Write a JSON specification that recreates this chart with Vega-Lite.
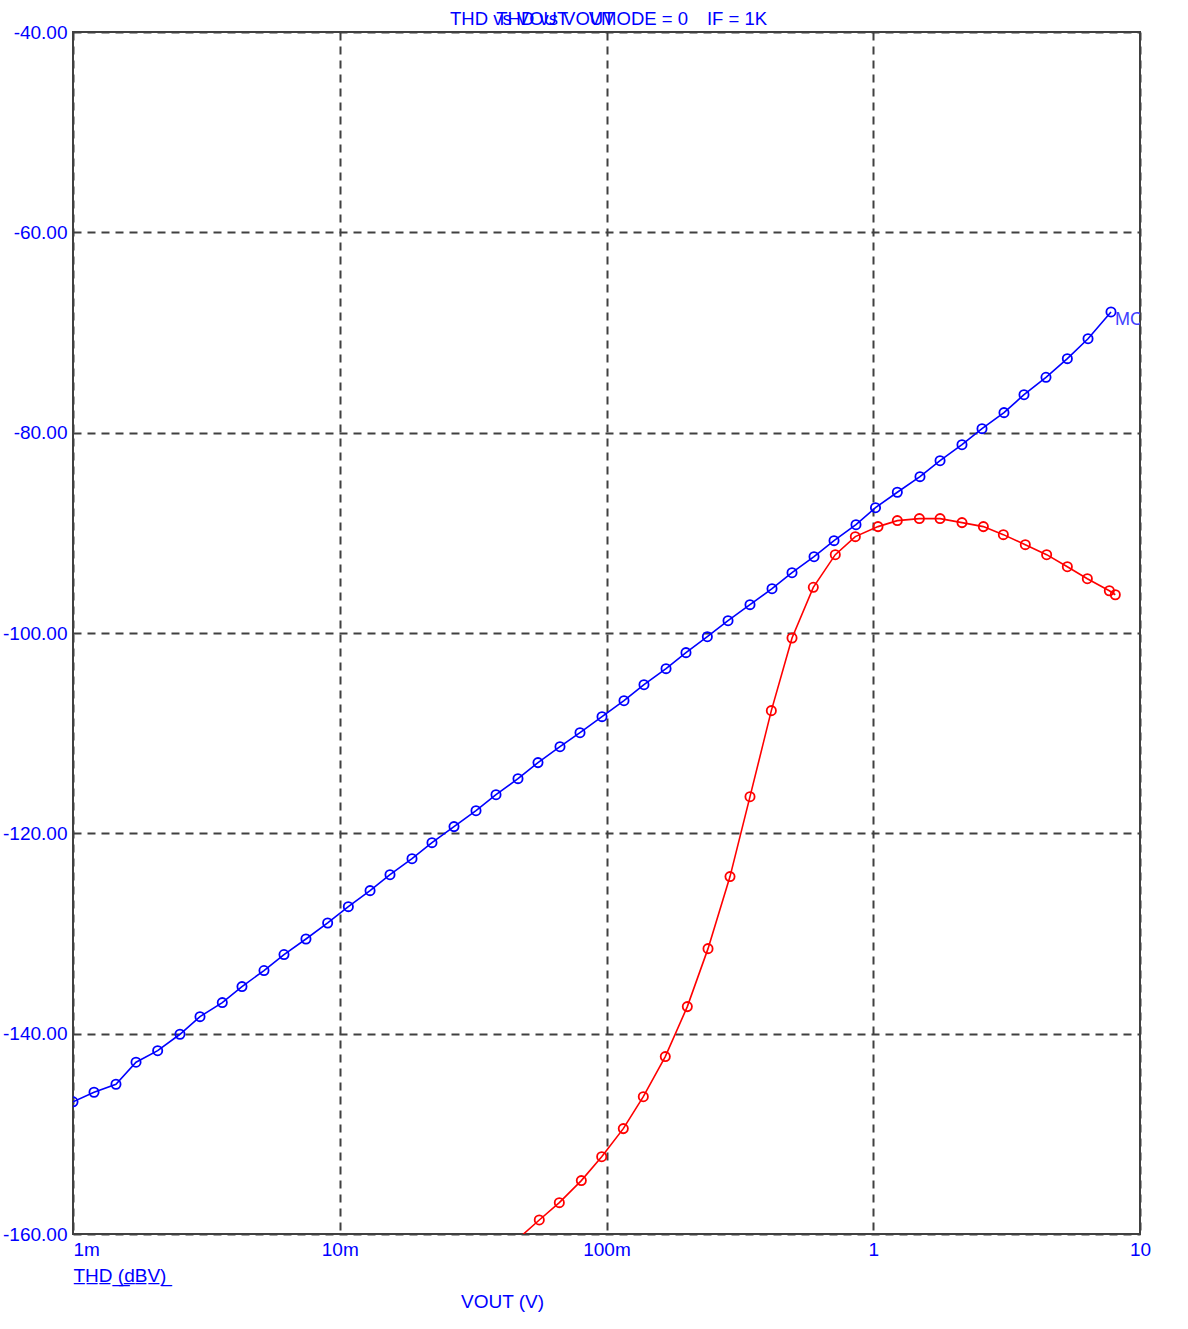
{
  "$schema": "https://vega.github.io/schema/vega-lite/v6.json",
  "width": 1067,
  "height": 1202,
  "autosize": {"type": "none"},
  "padding": {"left": 73, "top": 32, "right": 48, "bottom": 95},
  "background": "white",
  "title": {
    "text": "THD vs VOUT\u00a0\u00a0\u00a0\u00a0VMODE = 0",
    "subtitle": "\u200b\u00a0\u00a0\u00a0\u00a0\u00a0\u00a0\u00a0\u00a0\u00a0THD vs VOUT\u00a0\u00a0\u00a0\u00a0\u00a0\u00a0\u00a0\u00a0\u00a0\u00a0\u00a0\u00a0\u00a0\u00a0\u00a0\u00a0\u00a0\u00a0IF = 1K",
    "anchor": "start",
    "frame": "group",
    "dx": 377,
    "offset": -5,
    "font": "Liberation Sans",
    "fontSize": 18.5,
    "fontWeight": "normal",
    "color": "#0000ff",
    "subtitleFont": "Liberation Sans",
    "subtitleFontSize": 18.5,
    "subtitleFontWeight": "normal",
    "subtitleColor": "#0000ff",
    "subtitlePadding": -18.5
  },
  "config": {
    "view": {"stroke": "#404040", "strokeWidth": 2},
    "axis": {
      "labelFont": "Liberation Sans",
      "labelFontSize": 19,
      "labelColor": "#0000ff",
      "titleFont": "Liberation Sans",
      "titleFontSize": 19,
      "titleFontWeight": "normal",
      "titleColor": "#0000ff",
      "ticks": false,
      "domain": false,
      "grid": true,
      "gridColor": "#404040",
      "gridWidth": 2,
      "gridDash": [8, 6],
      "gridOpacity": 1,
      "labelOverlap": false,
      "labelBound": false,
      "labelFlush": false
    }
  },
  "data": {
    "values": [
      {"series": "blue", "v": 0.001, "thd": -146.8},
      {"series": "blue", "v": 0.001199, "thd": -145.85},
      {"series": "blue", "v": 0.001449, "thd": -145.05},
      {"series": "blue", "v": 0.001723, "thd": -142.85},
      {"series": "blue", "v": 0.002077, "thd": -141.7},
      {"series": "blue", "v": 0.002518, "thd": -140.06},
      {"series": "blue", "v": 0.002993, "thd": -138.3},
      {"series": "blue", "v": 0.003628, "thd": -136.9},
      {"series": "blue", "v": 0.0043, "thd": -135.3},
      {"series": "blue", "v": 0.0052, "thd": -133.7},
      {"series": "blue", "v": 0.00618, "thd": -132.1},
      {"series": "blue", "v": 0.00747, "thd": -130.55},
      {"series": "blue", "v": 0.00901, "thd": -128.95},
      {"series": "blue", "v": 0.01077, "thd": -127.32},
      {"series": "blue", "v": 0.01299, "thd": -125.72},
      {"series": "blue", "v": 0.01543, "thd": -124.13},
      {"series": "blue", "v": 0.01866, "thd": -122.53},
      {"series": "blue", "v": 0.02217, "thd": -120.93},
      {"series": "blue", "v": 0.02681, "thd": -119.33},
      {"series": "blue", "v": 0.03242, "thd": -117.74},
      {"series": "blue", "v": 0.03853, "thd": -116.14},
      {"series": "blue", "v": 0.04658, "thd": -114.54},
      {"series": "blue", "v": 0.05536, "thd": -112.94},
      {"series": "blue", "v": 0.06694, "thd": -111.35},
      {"series": "blue", "v": 0.07956, "thd": -109.95},
      {"series": "blue", "v": 0.0962, "thd": -108.35},
      {"series": "blue", "v": 0.1163, "thd": -106.76},
      {"series": "blue", "v": 0.1382, "thd": -105.16},
      {"series": "blue", "v": 0.1672, "thd": -103.56},
      {"series": "blue", "v": 0.1986, "thd": -101.96},
      {"series": "blue", "v": 0.2388, "thd": -100.37},
      {"series": "blue", "v": 0.2855, "thd": -98.77},
      {"series": "blue", "v": 0.3451, "thd": -97.17},
      {"series": "blue", "v": 0.4174, "thd": -95.58},
      {"series": "blue", "v": 0.496, "thd": -93.98},
      {"series": "blue", "v": 0.5998, "thd": -92.38},
      {"series": "blue", "v": 0.7128, "thd": -90.78},
      {"series": "blue", "v": 0.8616, "thd": -89.19},
      {"series": "blue", "v": 1.0196, "thd": -87.49},
      {"series": "blue", "v": 1.231, "thd": -85.95},
      {"series": "blue", "v": 1.497, "thd": -84.39},
      {"series": "blue", "v": 1.78, "thd": -82.8},
      {"series": "blue", "v": 2.151, "thd": -81.2},
      {"series": "blue", "v": 2.557, "thd": -79.6},
      {"series": "blue", "v": 3.091, "thd": -78.0},
      {"series": "blue", "v": 3.674, "thd": -76.21},
      {"series": "blue", "v": 4.442, "thd": -74.47},
      {"series": "blue", "v": 5.341, "thd": -72.61},
      {"series": "blue", "v": 6.385, "thd": -70.62},
      {"series": "blue", "v": 7.785, "thd": -67.95, "label": "MC"},
      {"series": "red", "v": 0.047, "thd": -160.4},
      {"series": "red", "v": 0.05598, "thd": -158.6},
      {"series": "red", "v": 0.06655, "thd": -156.87},
      {"series": "red", "v": 0.08047, "thd": -154.67},
      {"series": "red", "v": 0.09594, "thd": -152.28},
      {"series": "red", "v": 0.1156, "thd": -149.48},
      {"series": "red", "v": 0.1374, "thd": -146.29},
      {"series": "red", "v": 0.1661, "thd": -142.29},
      {"series": "red", "v": 0.2009, "thd": -137.3},
      {"series": "red", "v": 0.2402, "thd": -131.51},
      {"series": "red", "v": 0.2904, "thd": -124.32},
      {"series": "red", "v": 0.3451, "thd": -116.34},
      {"series": "red", "v": 0.4149, "thd": -107.75},
      {"series": "red", "v": 0.496, "thd": -100.5},
      {"series": "red", "v": 0.596, "thd": -95.44},
      {"series": "red", "v": 0.7206, "thd": -92.18},
      {"series": "red", "v": 0.8566, "thd": -90.38},
      {"series": "red", "v": 1.042, "thd": -89.38},
      {"series": "red", "v": 1.231, "thd": -88.78},
      {"series": "red", "v": 1.489, "thd": -88.58},
      {"series": "red", "v": 1.78, "thd": -88.58},
      {"series": "red", "v": 2.151, "thd": -88.98},
      {"series": "red", "v": 2.587, "thd": -89.38},
      {"series": "red", "v": 3.074, "thd": -90.18},
      {"series": "red", "v": 3.715, "thd": -91.18},
      {"series": "red", "v": 4.467, "thd": -92.18},
      {"series": "red", "v": 5.341, "thd": -93.38},
      {"series": "red", "v": 6.347, "thd": -94.58},
      {"series": "red", "v": 7.674, "thd": -95.78},
      {"series": "red", "v": 8.08, "thd": -96.18}
    ]
  },
  "encoding": {
    "x": {
      "field": "v",
      "type": "quantitative",
      "scale": {"type": "log", "domain": [0.001, 10], "nice": false},
      "axis": {
        "values": [0.001, 0.01, 0.1, 1, 10],
        "labelExpr": "datum.value < 0.5 ? format(datum.value * 1000, 'd') + 'm' : format(datum.value, 'd')",
        "labelAlign": {"condition": {"test": "datum.value < 0.002", "value": "left"}, "value": "center"},
        "labelPadding": 6,
        "title": "VOUT (V)",
        "titleAnchor": "start",
        "titleAlign": "center",
        "titleX": 429,
        "titleY": 73,
        "titleBaseline": "alphabetic"
      }
    },
    "y": {
      "field": "thd",
      "type": "quantitative",
      "scale": {"domain": [-160, -40], "nice": false, "zero": false},
      "axis": {
        "values": [-160, -140, -120, -100, -80, -60, -40],
        "labelExpr": "datum.value < 0 ? '-' + format(-datum.value, '.2f') : format(datum.value, '.2f')",
        "labelPadding": 6,
        "title": "T\u0332H\u0332D\u0332 \u0332(\u0332d\u0332B\u0332V\u0332)\u0332",
        "titleAngle": 0,
        "titleAlign": "left",
        "titleAnchor": "start",
        "titleX": 0,
        "titleY": 1249,
        "titleBaseline": "alphabetic"
      }
    },
    "color": {
      "field": "series",
      "type": "nominal",
      "scale": {"domain": ["blue", "red"], "range": ["#0000ff", "#ff0000"]},
      "legend": null
    }
  },
  "layer": [
    {
      "mark": {"type": "line", "clip": true, "strokeWidth": 1.6}
    },
    {
      "transform": [{"filter": "datum.thd >= -160"}],
      "mark": {"type": "point", "shape": "circle", "filled": false, "size": 85, "strokeWidth": 1.8, "opacity": 1, "clip": true}
    },
    {
      "transform": [{"filter": "datum.label != null"}],
      "mark": {"type": "text", "align": "left", "baseline": "middle", "dx": 4, "dy": 8, "font": "Liberation Sans", "fontSize": 18, "clip": true},
      "encoding": {"text": {"field": "label"}, "color": {"value": "#4040ff"}}
    }
  ]
}
